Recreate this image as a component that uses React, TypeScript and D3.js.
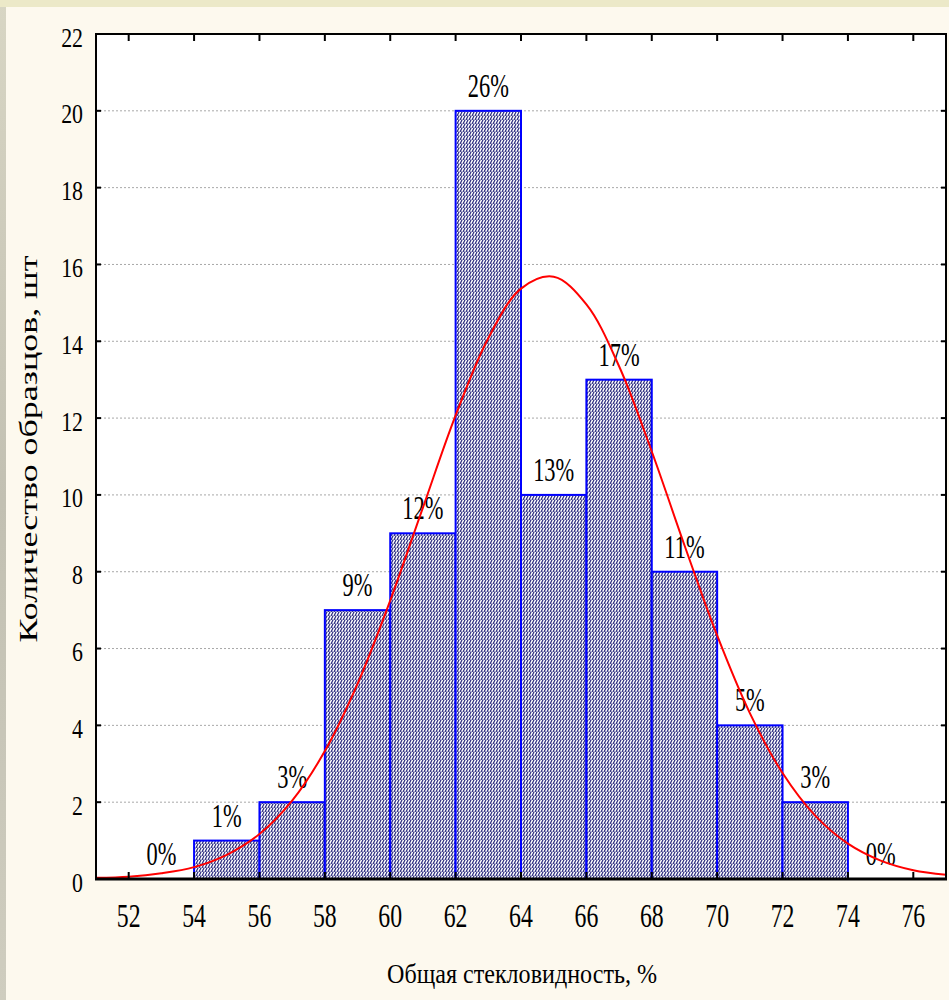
import React from "react";
import * as d3 from "d3";

// bins of the histogram (lower edge, count)
const binStarts = [54, 56, 58, 60, 62, 64, 66, 68, 70, 72];
const binCounts = [1, 2, 7, 9, 20, 10, 13, 8, 4, 2];
// percent labels placed over bins, including the empty ones at 52-54 and 74-76
const labelStarts = [52, 54, 56, 58, 60, 62, 64, 66, 68, 70, 72, 74];
const labelCounts = [0, 1, 2, 7, 9, 20, 10, 13, 8, 4, 2, 0];
const labelTexts = ["0%", "1%", "3%", "9%", "12%", "26%", "13%", "17%", "11%", "5%", "3%", "0%"];
// fitted normal curve at whole x values
const curveX = [51, 52, 53, 54, 55, 56, 57, 58, 59, 60, 61, 62, 63, 64, 65, 66, 67, 68, 69, 70, 71, 72, 73, 74, 75, 76, 77];
const curveY = [0.03, 0.06, 0.15, 0.31, 0.63, 1.17, 2.04, 3.33, 5.08, 7.25, 9.67, 12.07, 14.08, 15.37, 15.68, 14.96, 13.35, 11.13, 8.69, 6.34, 4.32, 2.76, 1.65, 0.92, 0.48, 0.23, 0.11];
const xTicks = [52, 54, 56, 58, 60, 62, 64, 66, 68, 70, 72, 74, 76];
const yTicks = [0, 2, 4, 6, 8, 10, 12, 14, 16, 18, 20, 22];

const W = 949;
const H = 1000;
const left = 96, right = 946, top = 34, bottom = 879;
const BIN = 2;
const FONT = "'Liberation Serif', 'Times New Roman', serif";

export default function App() {
  const x = d3.scaleLinear().domain([51, 77]).range([left, right]);
  const y = d3.scaleLinear().domain([0, 22]).range([bottom, top]);

  const line = d3
    .line<number>()
    .x((d, i) => x(curveX[i]))
    .y((d) => y(d))
    .curve(d3.curveCatmullRom);

  return (
    <svg
      width={W}
      height={H}
      style={{ position: "absolute", left: 0, top: 0, display: "block" }}
    >
      <defs>
        <pattern id="hatch" width="3" height="4" patternUnits="userSpaceOnUse">
          <rect width="3" height="4" fill="#ffffff" />
          <path d="M-1,2 l2,-4 M0,6 l3,-6 M2,6 l2,-4" stroke="#26267c" strokeWidth="1.2" />
        </pattern>
        <linearGradient id="edge" x1="0" y1="0" x2="0" y2="1">
          <stop offset="0" stopColor="#d8d6c4" />
          <stop offset="0.5" stopColor="#c2c0b2" />
          <stop offset="1" stopColor="#cfcdbf" />
        </linearGradient>
      </defs>

      {/* background */}
      <rect x={0} y={0} width={W} height={H} fill="url(#edge)" />
      <rect x={0} y={0} width={W} height={7} fill="#ece9c8" />
      <rect x={6} y={7} width={W - 6} height={H - 7} fill="#fdf9ee" />
      <rect x={left} y={top} width={right - left} height={bottom - top} fill="#ffffff" />

      {/* grid */}
      {yTicks.slice(1, -1).map((t) => (
        <line
          key={"g" + t}
          x1={left}
          x2={right}
          y1={y(t)}
          y2={y(t)}
          stroke="#a8a8a8"
          strokeWidth={1}
          strokeDasharray="2,2"
        />
      ))}

      {/* bars */}
      {binStarts.map((s, i) => (
        <rect
          key={"b" + s}
          x={x(s)}
          y={y(binCounts[i])}
          width={x(s + BIN) - x(s)}
          height={y(0) - y(binCounts[i])}
          fill="url(#hatch)"
          stroke="#0000ff"
          strokeWidth={2}
        />
      ))}

      {/* percent labels */}
      {labelStarts.map((s, i) => (
        <text
          key={"l" + i}
          transform={`translate(${x(s + BIN / 2)},${y(labelCounts[i]) - 14}) scale(0.68,1)`}
          textAnchor="middle"
          fontFamily={FONT}
          fontSize={33}
          fill="#000"
        >
          {labelTexts[i]}
        </text>
      ))}

      {/* normal curve */}
      <path d={line(curveY) || ""} fill="none" stroke="#ff0000" strokeWidth={2} />

      {/* frame */}
      <rect x={left} y={top} width={right - left} height={bottom - top} fill="none" stroke="#000" strokeWidth={2} />
      <line x1={left - 1} x2={right + 1} y1={bottom} y2={bottom} stroke="#000" strokeWidth={3} />

      {/* x ticks */}
      {xTicks.map((t) => (
        <g key={"x" + t}>
          <line x1={x(t)} x2={x(t)} y1={top} y2={top + 7} stroke="#000" strokeWidth={2} />
          <line x1={x(t)} x2={x(t)} y1={bottom} y2={bottom - 7} stroke="#000" strokeWidth={2} />
          <text
            transform={`translate(${x(t)},927) scale(0.7,1)`}
            textAnchor="middle"
            fontFamily={FONT}
            fontSize={34}
            fill="#000"
          >
            {t}
          </text>
        </g>
      ))}

      {/* y ticks */}
      {yTicks.map((t) => (
        <g key={"y" + t}>
          <line x1={left} x2={left + 5} y1={y(t)} y2={y(t)} stroke="#000" strokeWidth={2} />
          <line x1={right} x2={right - 5} y1={y(t)} y2={y(t)} stroke="#000" strokeWidth={2} />
          <text
            transform={`translate(83,${y(t) + 12.5}) scale(0.78,1)`}
            textAnchor="end"
            fontFamily={FONT}
            fontSize={28}
            fill="#000"
          >
            {t}
          </text>
        </g>
      ))}

      {/* axis titles */}
      <text
        x={522}
        y={983}
        textAnchor="middle"
        fontFamily={FONT}
        fontSize={27}
        textLength={270}
        lengthAdjust="spacingAndGlyphs"
        fill="#000"
      >
        Общая стекловидность, %
      </text>
      <text
        transform="translate(37,449) rotate(-90)"
        textAnchor="middle"
        fontFamily={FONT}
        fontSize={25}
        textLength={387}
        lengthAdjust="spacingAndGlyphs"
        fill="#000"
      >
        Количество образцов, шт
      </text>
    </svg>
  );
}
